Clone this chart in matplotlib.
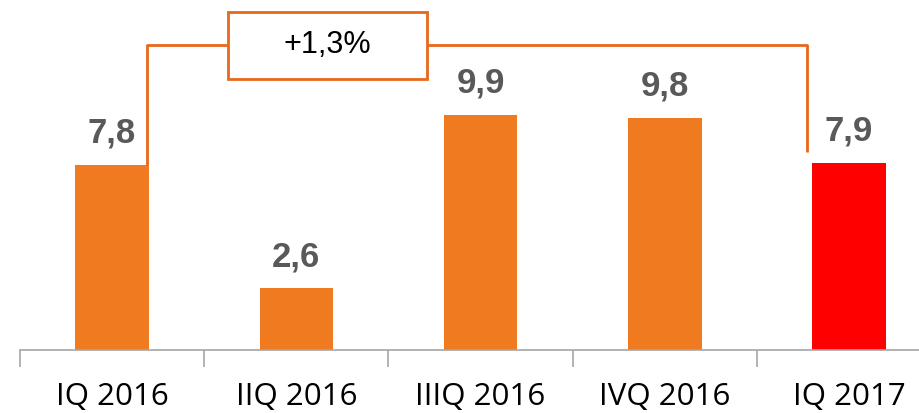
import matplotlib.pyplot as plt
from matplotlib.patches import Rectangle

# ===== DATA =====
quarters = ["IQ 2016", "IIQ 2016", "IIIQ 2016", "IVQ 2016", "IQ 2017"]
values = [7.8, 2.6, 9.9, 9.8, 7.9]
labels = ["7,8", "2,6", "9,9", "9,8", "7,9"]
growth_label = "+1,3%"

orange = "#F07A1F"
line_orange = "#E8671C"
bar_colors = [orange, orange, orange, orange, "#FF0000"]

fig = plt.figure(figsize=(9.2, 4.13), dpi=100)
ax = fig.add_axes([20 / 920, 63 / 413, 900 / 920, 350 / 413])

x = list(range(len(quarters)))
ax.bar(x, values, width=0.4, color=bar_colors, zorder=2)

for xi, v, lab in zip(x, values, labels):
    ax.annotate(lab, (xi, v), xytext=(0, 16), textcoords="offset points",
                ha="center", va="baseline", fontsize=25, fontweight="bold",
                color="#595959", family="Liberation Sans")

# comparison bracket between first and last quarter
top_y = 12.87
ax.plot([0.19, 0.19, 3.77, 3.77], [values[0], top_y, top_y, 8.35],
        color=line_orange, lw=2, solid_capstyle="butt", zorder=3, clip_on=False)
ax.add_patch(Rectangle((0.63, 11.43), 1.08, 2.83, facecolor="white",
                       edgecolor=line_orange, lw=2, zorder=4, clip_on=False))
ax.text(1.17, 12.85, growth_label, ha="center", va="center", fontsize=22,
        color="black", family="Liberation Sans", zorder=5)

ax.set_xticks([i - 0.5 for i in range(6)], minor=False)
ax.set_xticklabels([])
ax.tick_params(axis="x", length=12, width=1.2, color="#A6A6A6")
ax.set_xticks(x, minor=True)
ax.set_xticklabels(quarters, minor=True, fontsize=22.5, family="Open Sans")
ax.tick_params(axis="x", which="minor", length=0, pad=23)
ax.set_xlim(-0.5, -0.5 + 900 / 184.25)
ax.set_ylim(0, 350 / 23.72)
ax.set_yticks([])
for s in ["top", "right", "left"]:
    ax.spines[s].set_visible(False)
ax.spines["bottom"].set_color("#A6A6A6")
ax.spines["bottom"].set_linewidth(1.2)

fig.savefig("out.png", dpi=100)
